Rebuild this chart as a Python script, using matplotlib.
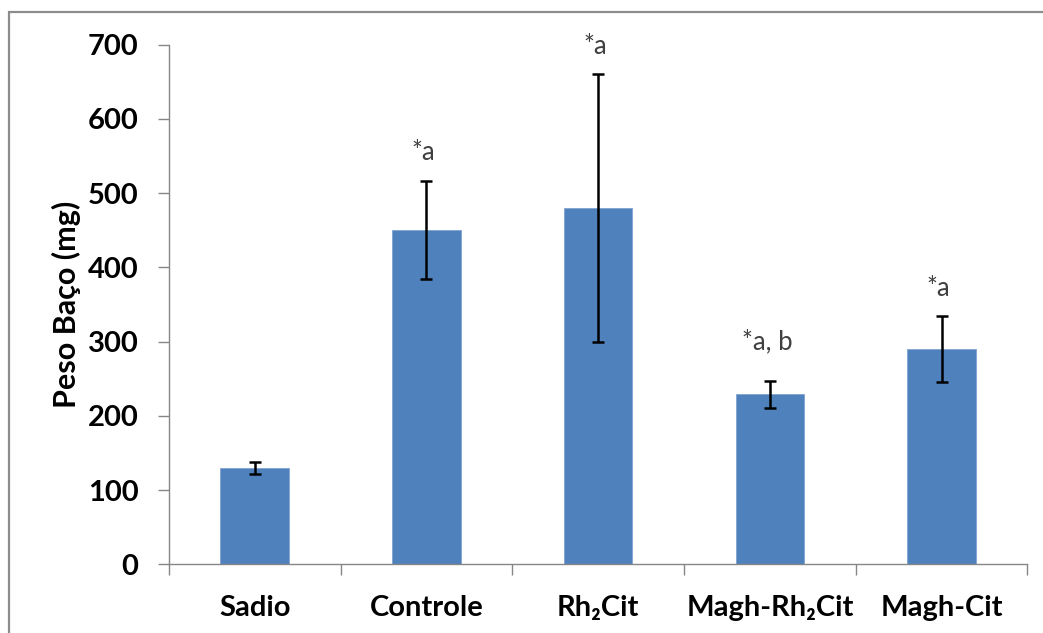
import matplotlib
matplotlib.use("Agg")
import matplotlib.pyplot as plt
from matplotlib.patches import Rectangle
import numpy as np

plt.rcParams['font.family'] = ['Lato', 'DejaVu Sans']

# Spleen weight per group (mean ± error)
groups = ["Sadio", "Controle", "Rh\u2082Cit", "Magh-Rh\u2082Cit", "Magh-Cit"]
means = [130, 450, 480, 229, 290]
errors = [8, 66, 180, 18, 45]
sig_labels = ["", "*a", "*a", "*a, b", "*a"]
y_ticks = [0, 100, 200, 300, 400, 500, 600, 700]

bar_color = "#4F81BD"
axis_color = "#868686"

fig = plt.figure(figsize=(10.43, 6.33), dpi=100)
ax = fig.add_axes([0.162, 0.1085, 0.823, 0.8209])

x = np.arange(len(groups))
ax.bar(x, means, width=0.4, color=bar_color, edgecolor="#7FA3D0", linewidth=0.6, zorder=2)
ax.errorbar(x, means, yerr=errors, fmt="none", ecolor="black",
            elinewidth=1.8, capsize=4.5, capthick=1.8, zorder=3)

# significance marks above each error bar
label_gap = [0, 15, 15, 23, 14]
for xi, m, e, lab, g in zip(x, means, errors, sig_labels, label_gap):
    if lab:
        ax.annotate(lab, (xi, m + e), xytext=(-2, g), textcoords="offset points",
                    ha="center", va="baseline", fontsize=18.5, color="#404040")

ax.set_xlim(-0.5, len(groups) - 0.5)
ax.set_ylim(0, 700)
ax.set_yticks(y_ticks)
ax.set_yticklabels([str(t) for t in y_ticks], fontsize=21, fontweight="bold")
ax.tick_params(axis="y", direction="out", length=8, width=1, color=axis_color, pad=14)

ax.set_xticks(x)
ax.set_xticklabels(groups, fontsize=21, fontweight="bold")
ax.tick_params(axis="x", which="major", length=0, pad=22)
ax.set_xticks(np.arange(len(groups) + 1) - 0.5, minor=True)
ax.tick_params(axis="x", which="minor", direction="out", length=8, width=1, color=axis_color)

ax.set_ylabel("Peso Baço (mg)", fontsize=22, fontweight="bold", labelpad=5)

for side in ("top", "right"):
    ax.spines[side].set_visible(False)
for side in ("left", "bottom"):
    ax.spines[side].set_color(axis_color)
    ax.spines[side].set_linewidth(1)

# chart frame
fig.patches.append(Rectangle((9 / 1043, -0.1), 1.2, 1.1 - 12 / 633,
                             transform=fig.transFigure, fill=False,
                             edgecolor="#8C8C8C", linewidth=1.6))

fig.savefig("out.png", dpi=100)
